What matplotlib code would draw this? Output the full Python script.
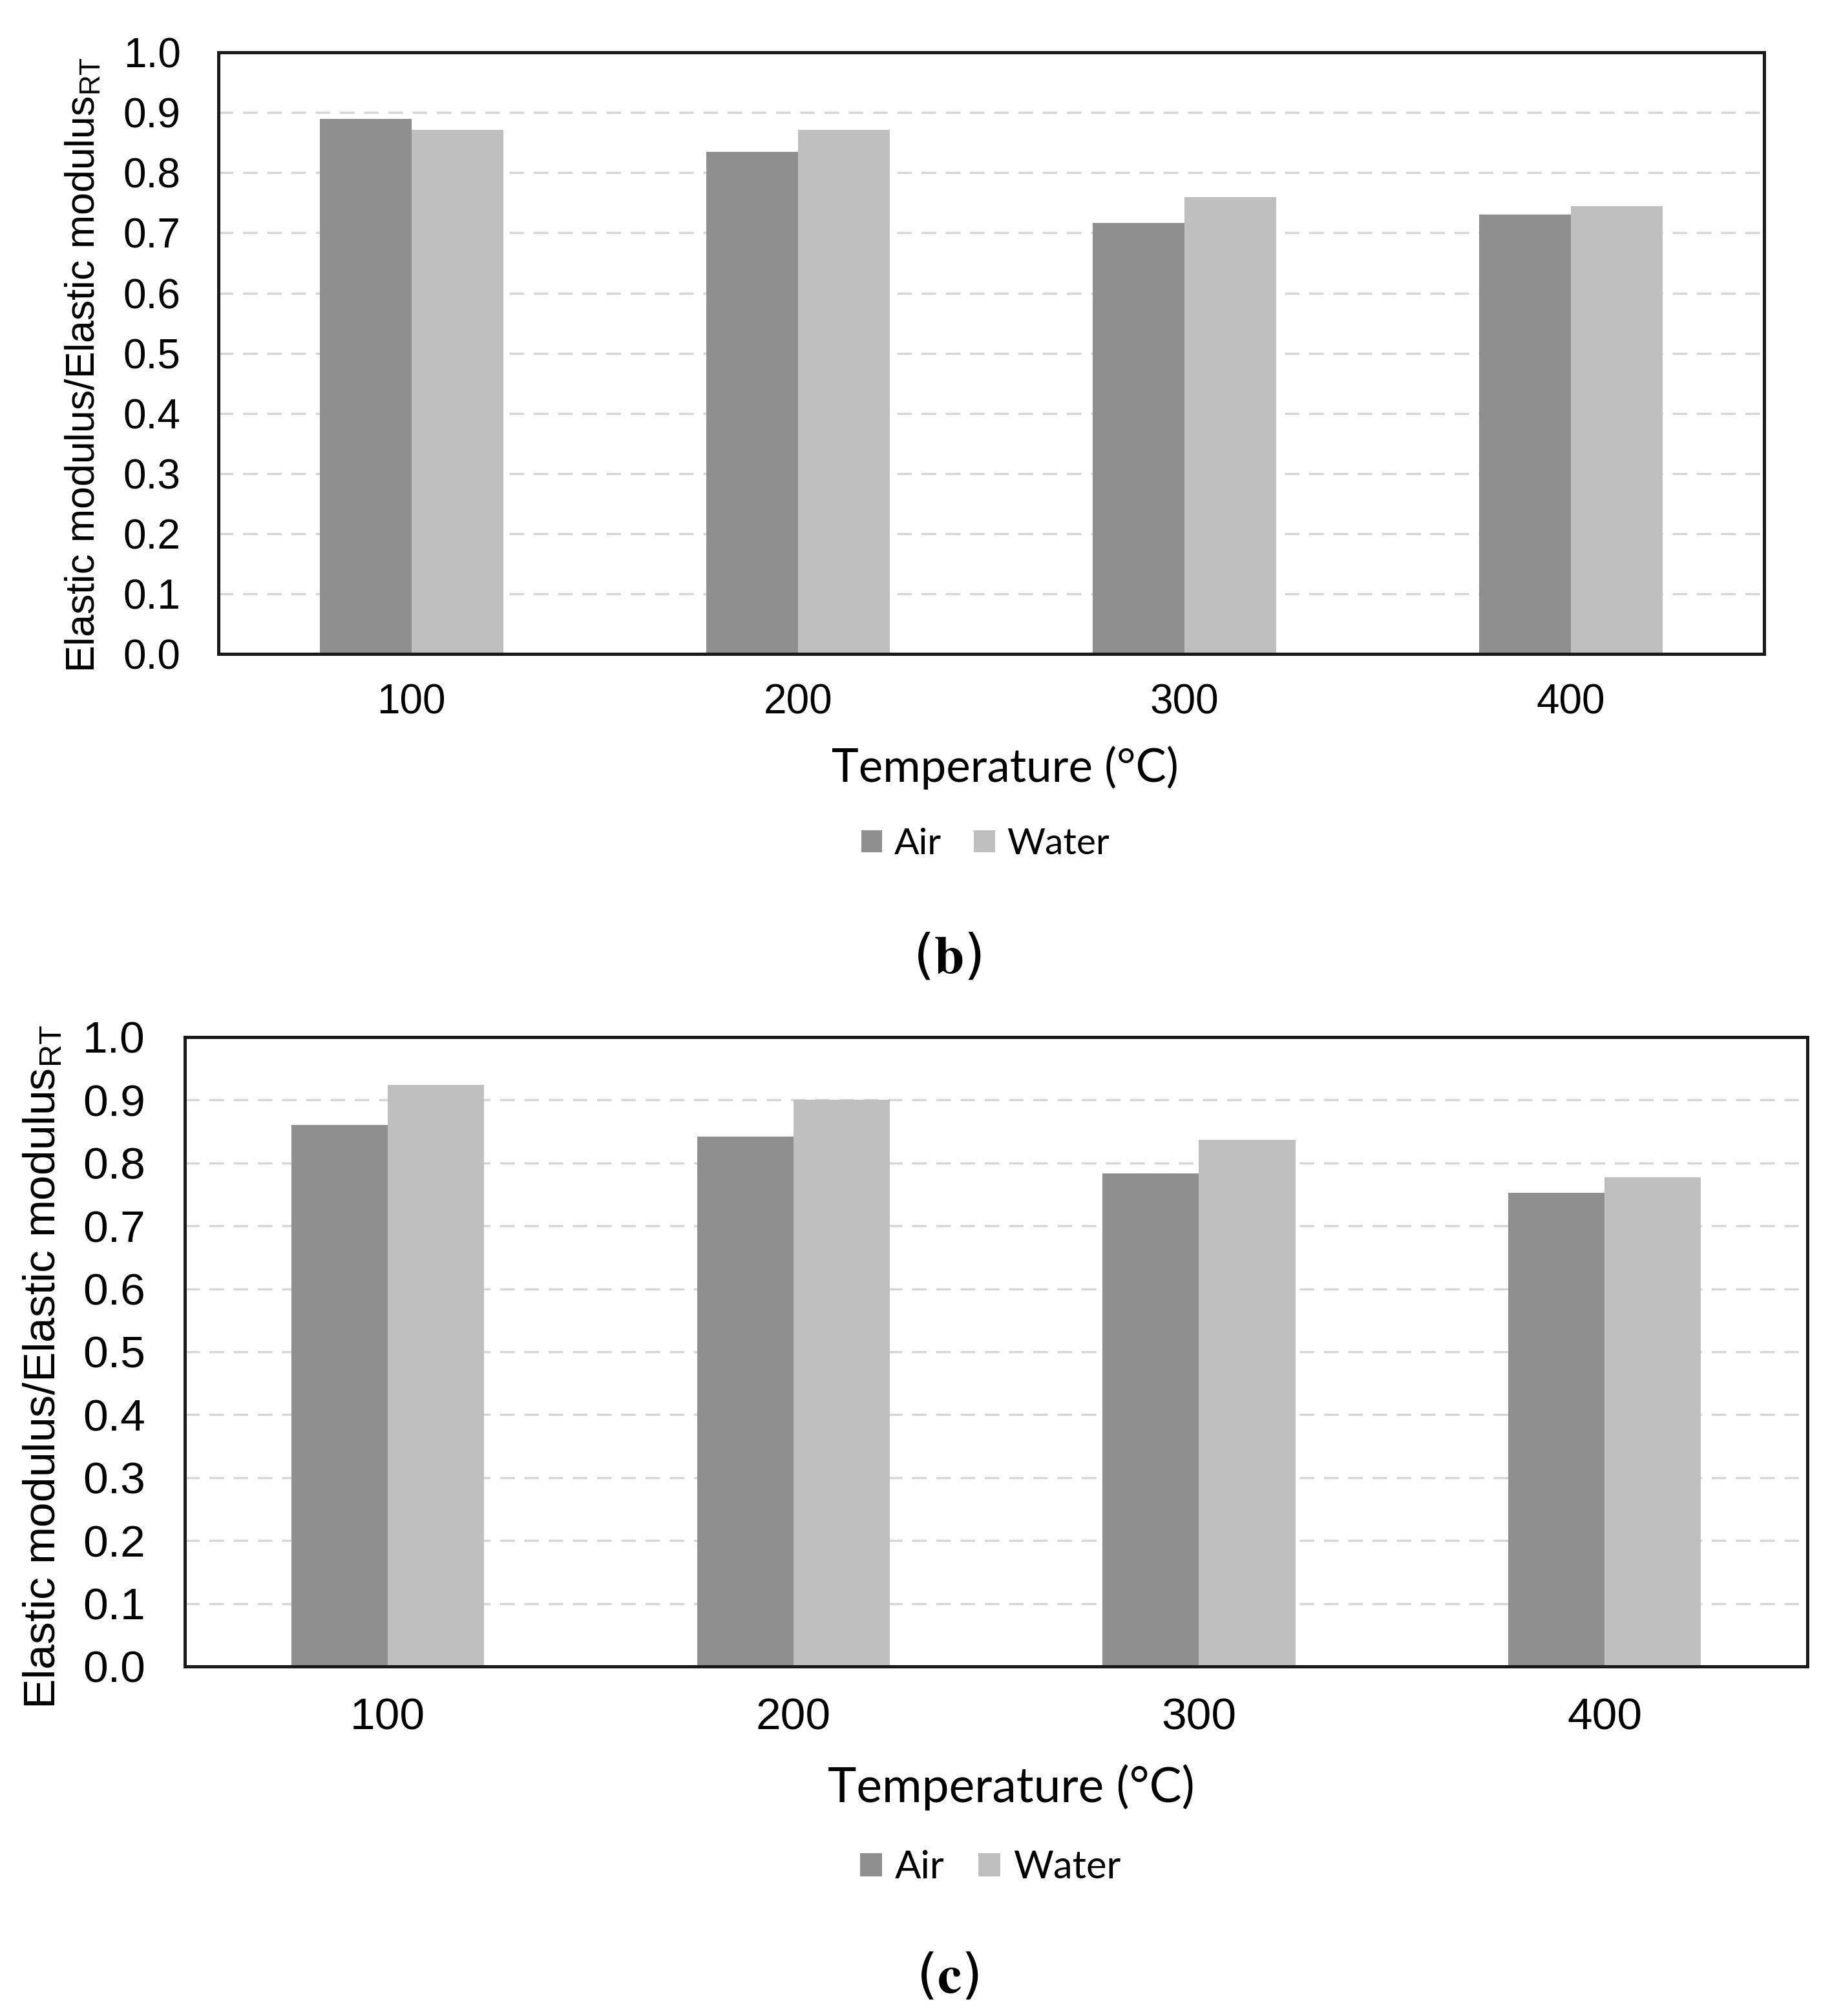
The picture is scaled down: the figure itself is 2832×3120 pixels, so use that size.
import matplotlib
matplotlib.use('Agg')
import matplotlib.pyplot as plt
from matplotlib.patches import Patch
import numpy as np

temps = ['100', '200', '300', '400']
air_b = [0.889, 0.835, 0.717, 0.730]
water_b = [0.871, 0.871, 0.759, 0.745]
air_c = [0.860, 0.842, 0.783, 0.753]
water_c = [0.924, 0.900, 0.837, 0.777]
series_names = ['Air', 'Water']
panel_tags = ['b', 'c']

AIR = '#8f8f8f'
WATER = '#bfbfbf'
GRID = '#d6d6d6'

plt.rcParams['mathtext.default'] = 'regular'
plt.rcParams['mathtext.fontset'] = 'stix'

fig = plt.figure(figsize=(28.32, 31.2), dpi=100)

# per panel: axes rect, tick size, pads, ylabel pos/size, xlabel pos, legend pos, tag pos
panels = [
    dict(rect=[0.1193, 0.6756, 0.8446, 0.2984], air=air_b, water=water_b,
         tick=46, ypad=42, xpad=33, ylab=(0.0456, 0.8189, 45),
         xlab=(0.5494, 0.6192, 51), leg=(0.5385, 0.5811, 41), tag=(0.5177, 0.5250)),
    dict(rect=[0.1010, 0.1734, 0.8867, 0.3122], air=air_c, water=water_c,
         tick=50, ypad=44, xpad=34, ylab=(0.0237, 0.3221, 50),
         xlab=(0.5526, 0.1135, 54), leg=(0.5413, 0.0737, 43), tag=(0.5177, 0.0192)),
]

for p, tag in zip(panels, panel_tags):
    ax = fig.add_axes(p['rect'])
    x = np.arange(len(temps))
    w = 0.2375
    ax.bar(x - w / 2, p['air'], w, color=AIR, edgecolor='none')
    ax.bar(x + w / 2, p['water'], w, color=WATER, edgecolor='none')
    ax.set_xlim(-0.5, len(temps) - 0.5)
    ax.set_ylim(0, 1.0)
    ax.set_yticks(np.arange(0, 1.01, 0.1))
    ax.set_yticklabels([f'{v:.1f}' for v in np.arange(0, 1.01, 0.1)])
    ax.set_xticks(x)
    ax.set_xticklabels(temps)
    ax.set_axisbelow(True)
    ax.yaxis.grid(True, linestyle=(0, (6.5, 4.3)), color=GRID, linewidth=2.5)
    ax.tick_params(axis='both', length=0, labelsize=p['tick'])
    ax.tick_params(axis='y', pad=p['ypad'])
    ax.tick_params(axis='x', pad=p['xpad'])
    for lab in ax.get_xticklabels() + ax.get_yticklabels():
        lab.set_fontfamily('Liberation Sans')
    for s in ax.spines.values():
        s.set_linewidth(3.6)
        s.set_color('#1a1a1a')

    fig.text(p['ylab'][0], p['ylab'][1],
             r'Elastic modulus/Elastic modulus$_{RT}$',
             rotation=90, ha='center', va='center',
             fontsize=p['ylab'][2], family='Liberation Sans')
    fig.text(p['xlab'][0], p['xlab'][1], 'Temperature (°C)',
             ha='center', va='center', fontsize=p['xlab'][2], family='Lato')

    handles = [Patch(facecolor=AIR, edgecolor='none'),
               Patch(facecolor=WATER, edgecolor='none')]
    fig.legend(handles, series_names, loc='center',
               bbox_to_anchor=(p['leg'][0], p['leg'][1]), ncol=2, frameon=False,
               prop={'family': 'Lato', 'size': p['leg'][2]},
               handlelength=0.57, handleheight=0.55, handletextpad=0.33,
               columnspacing=0.88, borderpad=0)

    fig.text(p['tag'][0], p['tag'][1], r'$(\mathbf{' + tag + r'})$',
             ha='center', va='center', fontsize=60)

fig.savefig('out.png', dpi=100, facecolor='white')
